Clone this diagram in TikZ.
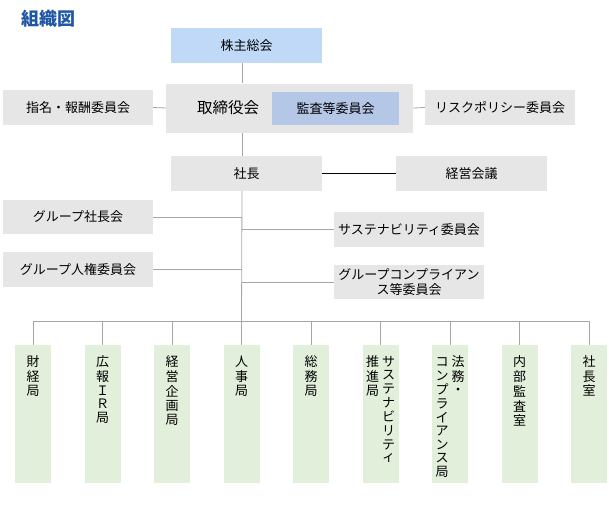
\documentclass[tikz,border=0pt]{standalone}
\usepackage{fontspec}
\setmainfont{Noto Sans CJK JP}
\usetikzlibrary{calc}
\definecolor{title blue}{HTML}{1F56A5}
\definecolor{box gray}{HTML}{E6E6E6}
\definecolor{top blue}{HTML}{BFD9F7}
\definecolor{audit blue}{HTML}{B4C7E7}
\definecolor{bureau green}{HTML}{E2EFDA}
\definecolor{line gray}{HTML}{A6A6A6}
\newcommand{\tcol}[1]{\begin{tabular}[t]{@{}c@{}}#1\end{tabular}}
\tikzset{
    % Boxes
    org box/.style={fill=box gray,inner sep=0pt,minimum width=151pt,minimum height=35pt,align=center,font={\fontsize{13}{15}\selectfont}},
    top box/.style={org box,fill=top blue},
    audit box/.style={org box,fill=audit blue,minimum width=127pt,minimum height=33pt},
    bureau box/.style={fill=bureau green,inner xsep=0pt,inner ysep=11pt,minimum width=36pt,font={\fontsize{13}{12.8}\selectfont}},
    title/.style={text=title blue,inner sep=0pt,font={\fontsize{18}{20}\selectfont\bfseries}},
    %
    % Lines
    link/.style={draw=line gray,line width=0.8pt},
    main link/.style={draw=black,line width=0.8pt}
}
\begin{document}
\begin{tikzpicture}[x=1pt,y=-1pt]
    \useasboundingbox (0,0) rectangle (609,511);
    \node[title] (title) at (48,19) {組織図};
    % top of the chart
    \node[top box] (kabu) at (246.5,45.5) {株主総会};
    \node[org box,minimum width=247pt,minimum height=49pt] (board) at (289.5,108) {};
    \node[inner sep=0pt,font={\fontsize{15.5}{18}\selectfont}] (boardtext) at (228,108) {取締役会};
    \node[audit box] (audit) at (335.5,108.5) {監査等委員会};
    \node[org box,minimum width=150pt] (nom) at (78,107.5) {指名・報酬委員会};
    \node[org box,minimum width=150pt] (risk) at (500,107.5) {リスクポリシー委員会};
    \node[org box] (ceo) at (246.5,173.5) {社長};
    \node[org box] (keiei) at (471.5,173.5) {経営会議};
    % committees
    \node[org box,minimum width=150pt,minimum height=34pt] (gsp) at (78,217) {グループ社長会};
    \node[org box,minimum width=150pt] (hr) at (78,269.5) {グループ人権委員会};
    \node[org box,minimum width=150pt] (sus) at (409,229.5) {サステナビリティ委員会};
    \node[org box,minimum width=150pt,minimum height=34pt] (comp) at (409,282) {グループコンプライアン\\ス等委員会};
    \coordinate (trunk) at (242,0);
    \coordinate (bus) at (0,321);
    % bureaus
    \foreach \n/\t in {1/{\tcol{財\\経\\局}},
                       2/{\tcol{広\\報\\Ｉ\\Ｒ\\局}},
                       3/{\tcol{経\\営\\企\\画\\局}},
                       4/{\tcol{人\\事\\局}},
                       5/{\tcol{総\\務\\局}},
                       6/{\tcol{推\\進\\局}\hspace{3pt}\tcol{サ\\ス\\テ\\ナ\\ビ\\リ\\テ\\ィ}},
                       7/{\tcol{コ\\ン\\プ\\ラ\\イ\\ア\\ン\\ス\\局}\hspace{3pt}\tcol{法\\務\\・}},
                       8/{\tcol{内\\部\\監\\査\\室}},
                       9/{\tcol{社\\長\\室}}}{
        \node[bureau box] (b\n) at ({33+69.5*(\n-1)},414) {\parbox[c][116pt][t]{36pt}{\centering\t}};
        \draw[link] (b\n.north |- bus) -- (b\n.north);
    }
    % connectors
    \draw[link] (kabu.south -| trunk) -- (board.north -| trunk);
    \draw[link] (board.south -| trunk) -- (ceo.north -| trunk);
    \draw[link] (ceo.south -| trunk) -- (b4.north |- bus);
    \draw[link] (nom.east) -- (board.west);
    \draw[link] (board.east) -- (risk.west);
    \draw[main link] (ceo.east) -- (keiei.west);
    \draw[link] (gsp.east) -- (gsp.east -| trunk);
    \draw[link] (hr.east) -- (hr.east -| trunk);
    \draw[link] (trunk |- sus.west) -- (sus.west);
    \draw[link] (trunk |- comp.west) -- (comp.west);
    \draw[link] (b1.north |- bus) -- (b9.north |- bus);
\end{tikzpicture}
\end{document}
